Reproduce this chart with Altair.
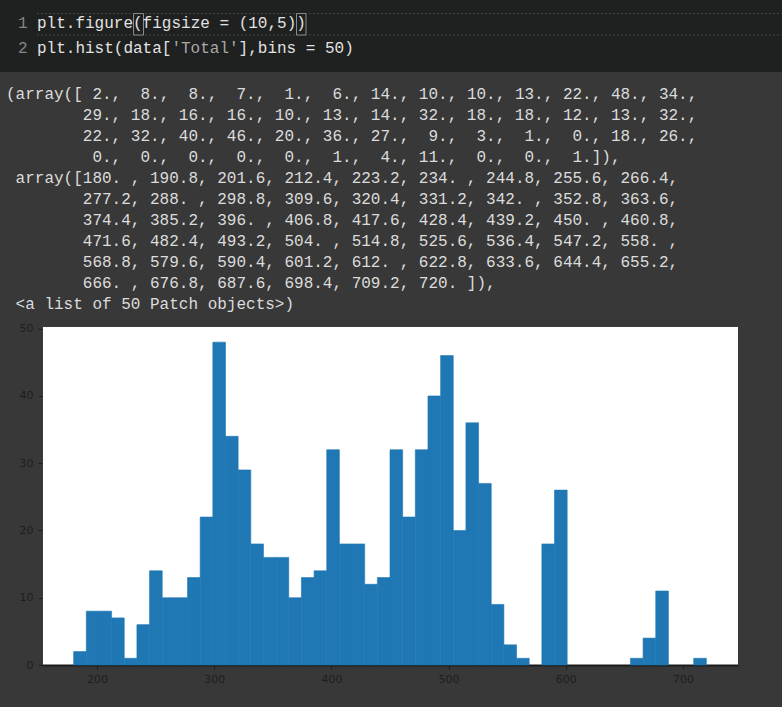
import altair as alt
import pandas as pd

# ---- data ----
counts = [2, 8, 8, 7, 1, 6, 14, 10, 10, 13, 22, 48, 34,
          29, 18, 16, 16, 10, 13, 14, 32, 18, 18, 12, 13, 32,
          22, 32, 40, 46, 20, 36, 27, 9, 3, 1, 0, 18, 26,
          0, 0, 0, 0, 0, 1, 4, 11, 0, 0, 1]
edges = [180.0, 190.8, 201.6, 212.4, 223.2, 234.0, 244.8, 255.6, 266.4,
         277.2, 288.0, 298.8, 309.6, 320.4, 331.2, 342.0, 352.8, 363.6,
         374.4, 385.2, 396.0, 406.8, 417.6, 428.4, 439.2, 450.0, 460.8,
         471.6, 482.4, 493.2, 504.0, 514.8, 525.6, 536.4, 547.2, 558.0,
         568.8, 579.6, 590.4, 601.2, 612.0, 622.8, 633.6, 644.4, 655.2,
         666.0, 676.8, 687.6, 698.4, 709.2, 720.0]
x_ticks = [200, 300, 400, 500, 600, 700]
y_ticks = [0, 10, 20, 30, 40, 50]

line_numbers = ["1", "2"]
# code segments: (line index, text, kind)
code_segments = [
    (0, "plt.figure(figsize = (10,5))", "code"),
    (1, "plt.hist(data[", "code"),
    (1, "'Total'", "string"),
    (1, "],bins = 50)", "code"),
]
output_lines = [
    "(array([ 2.,  8.,  8.,  7.,  1.,  6., 14., 10., 10., 13., 22., 48., 34.,",
    "        29., 18., 16., 16., 10., 13., 14., 32., 18., 18., 12., 13., 32.,",
    "        22., 32., 40., 46., 20., 36., 27.,  9.,  3.,  1.,  0., 18., 26.,",
    "         0.,  0.,  0.,  0.,  0.,  1.,  4., 11.,  0.,  0.,  1.]),",
    " array([180. , 190.8, 201.6, 212.4, 223.2, 234. , 244.8, 255.6, 266.4,",
    "        277.2, 288. , 298.8, 309.6, 320.4, 331.2, 342. , 352.8, 363.6,",
    "        374.4, 385.2, 396. , 406.8, 417.6, 428.4, 439.2, 450. , 460.8,",
    "        471.6, 482.4, 493.2, 504. , 514.8, 525.6, 536.4, 547.2, 558. ,",
    "        568.8, 579.6, 590.4, 601.2, 612. , 622.8, 633.6, 644.4, 655.2,",
    "        666. , 676.8, 687.6, 698.4, 709.2, 720. ]),",
    " <a list of 50 Patch objects>)",
]

# ---- layout constants ----
PL, PT = 42, 326          # plot-area offset in the page
W, H = 696, 339
MONO = "Liberation Mono"
CW = 9.6                  # monospace character width at 16px
CODE_COLORS = {"code": "#e2e2e2", "string": "#a8a8a8"}


def nb(s):
    return s.replace(" ", "\u00a0")


hist = pd.DataFrame({"start": edges[:-1], "end": edges[1:], "count": counts})

x_scale = alt.Scale(domain=[153, 747], nice=False, zero=False)
y_scale = alt.Scale(domain=[0, 50.4], nice=False)

bars = alt.Chart(hist).transform_filter("datum.count > 0").mark_bar(
    color="#1f77b4", stroke="#1f77b4", strokeWidth=0.6
).encode(
    x=alt.X("start:Q", scale=x_scale,
            axis=alt.Axis(values=x_ticks, title=None, grid=False, domain=True,
                          domainColor="#1c1c1c", domainWidth=2,
                          labelColor="#1e1e1e", tickColor="#1e1e1e", tickSize=4,
                          labelPadding=4, labelFontSize=11, labelFont="DejaVu Sans",
                          format="d")),
    x2="end:Q",
    y=alt.Y("count:Q", scale=y_scale,
            axis=alt.Axis(values=y_ticks, title=None, grid=False, domain=False,
                          labelColor="#1e1e1e", tickColor="#1e1e1e", tickSize=4,
                          labelPadding=5, labelFontSize=11, labelFont="DejaVu Sans",
                          format="d")),
    y2=alt.datum(0),
)

one = pd.DataFrame({"k": [0]})

# code cell background
code_bg = alt.Chart(one).mark_rect(color="#1f2020").encode(
    x=alt.value(-PL), x2=alt.value(782 - PL),
    y=alt.value(-PT), y2=alt.value(72 - PT),
)

# current-line dotted borders
hl_top = alt.Chart(one).mark_rule(color="#444444", strokeDash=[2, 2], strokeWidth=1).encode(
    x=alt.value(37 - PL), x2=alt.value(782 - PL), y=alt.value(13.5 - PT))
hl_bot = alt.Chart(one).mark_rule(color="#444444", strokeDash=[2, 2], strokeWidth=1).encode(
    x=alt.value(37 - PL), x2=alt.value(782 - PL), y=alt.value(35 - PT))

# bracket match boxes
br1 = alt.Chart(one).mark_rect(fill="#1f2020", stroke="#8a8a8a", strokeWidth=1).encode(
    x=alt.value(133.5 - PL), x2=alt.value(143.5 - PL),
    y=alt.value(13.5 - PT), y2=alt.value(35 - PT))
br2 = alt.Chart(one).mark_rect(fill="#1f2020", stroke="#8a8a8a", strokeWidth=1).encode(
    x=alt.value(296.5 - PL), x2=alt.value(306 - PL),
    y=alt.value(13.5 - PT), y2=alt.value(35 - PT))

text_layers = []

# line numbers
for i, ln in enumerate(line_numbers):
    text_layers.append(
        alt.Chart(pd.DataFrame({"t": [ln]})).mark_text(
            font=MONO, fontSize=16, color="#858585", align="left", baseline="alphabetic"
        ).encode(text="t:N", x=alt.value(18 - PL), y=alt.value(27.5 + i * 25 - PT)))

# code segments, placed by character column
col = {}
for li, seg, kind in code_segments:
    c = col.get(li, 0)
    text_layers.append(
        alt.Chart(pd.DataFrame({"t": [nb(seg)]})).mark_text(
            font=MONO, fontSize=16, color=CODE_COLORS[kind], align="left",
            baseline="alphabetic"
        ).encode(text="t:N", x=alt.value(37 + c * CW - PL),
                 y=alt.value(27.5 + li * 25 - PT)))
    col[li] = c + len(seg)

# printed output, one line per layer (leading indentation -> x offset)
for i, s in enumerate(output_lines):
    indent = len(s) - len(s.lstrip(" "))
    text_layers.append(
        alt.Chart(pd.DataFrame({"t": [nb(s.lstrip(" "))]})).mark_text(
            font=MONO, fontSize=16, color="#dcdcdc", align="left", baseline="alphabetic"
        ).encode(text="t:N", x=alt.value(6 + indent * CW - PL),
                 y=alt.value(99 + i * 21 - PT)))

chart = alt.layer(
    code_bg, hl_top, hl_bot, br1, br2, *text_layers, bars
).properties(
    width=W, height=H,
    autosize=alt.AutoSizeParams(type="none"),
    padding={"left": PL, "top": PT, "right": 782 - PL - W, "bottom": 707 - PT - H},
    background="#383838",
).configure_view(
    fill="white", stroke="#3a3a3a", strokeWidth=1
)

chart.save("out.html", embed_options={"renderer": "svg", "actions": False})
